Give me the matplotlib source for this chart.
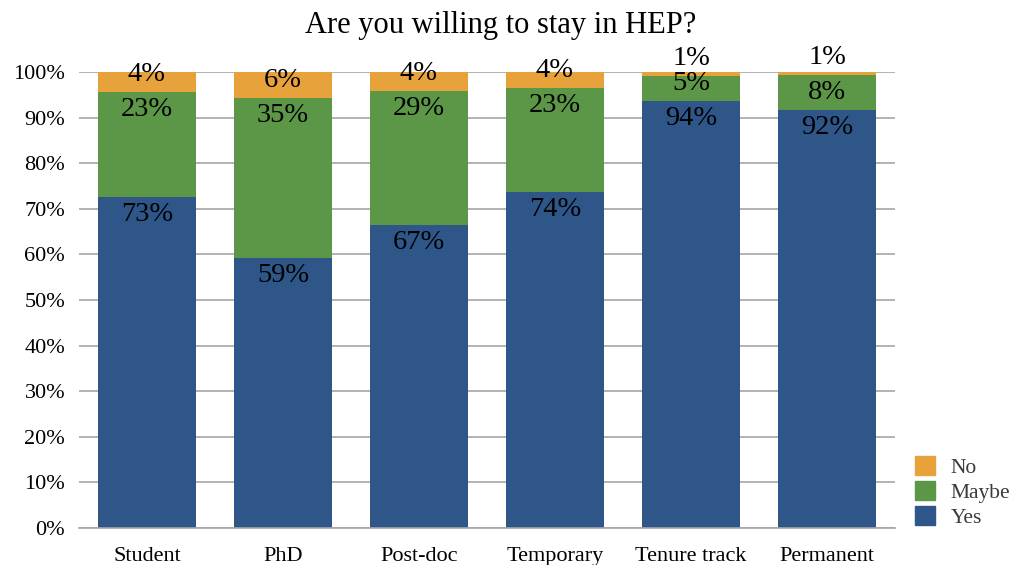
import matplotlib.pyplot as plt
from matplotlib.patches import Patch

categories = ['Student', 'PhD', 'Post-doc', 'Temporary', 'Tenure track', 'Permanent']
# segment heights (%)
yes = [72.6, 59.2, 66.4, 73.7, 93.6, 91.7]
maybe = [23.0, 35.1, 29.4, 22.8, 5.5, 7.6]
no = [4.4, 5.7, 4.2, 3.5, 0.9, 0.7]
# printed labels
yes_lbl = ['73%', '59%', '67%', '74%', '94%', '92%']
maybe_lbl = ['23%', '35%', '29%', '23%', '5%', '8%']
no_lbl = ['4%', '6%', '4%', '4%', '1%', '1%']

c_yes = '#2E5689'
c_maybe = '#5C9748'
c_no = '#E8A23C'

plt.rcParams['font.family'] = ['Liberation Serif', 'DejaVu Serif']

fig = plt.figure(figsize=(10.18, 5.65), dpi=100)
ax = fig.add_axes([79 / 1018, 37 / 565, 816 / 1018, 456 / 565])

x = range(len(categories))
w = 0.72
bottoms_maybe = yes
bottoms_no = [a + b for a, b in zip(yes, maybe)]
ax.bar(x, yes, w, color=c_yes, zorder=2)
ax.bar(x, maybe, w, bottom=bottoms_maybe, color=c_maybe, zorder=2)
ax.bar(x, no, w, bottom=bottoms_no, color=c_no, zorder=2)

h = 3.9
for i in x:
    segs = [(0, yes[i], yes_lbl[i]),
            (bottoms_maybe[i], maybe[i], maybe_lbl[i]),
            (bottoms_no[i], no[i], no_lbl[i])]
    for b, v, lbl in segs:
        top = b + v
        yc = max(top - h, b + h)
        ax.text(i, yc, lbl, ha='center', va='center', fontsize=20.5,
                color='black', zorder=3)

ax.set_xlim(-0.5, 5.5)
ax.set_ylim(0, 100)
ax.set_yticks(range(0, 101, 10))
ax.set_yticklabels([f'{v}%' for v in range(0, 101, 10)], fontsize=16)
ax.set_xticks(list(x))
ax.set_xticklabels(categories, fontsize=16, va='baseline')
ax.tick_params(axis='y', length=0, pad=10)
ax.tick_params(axis='x', length=0, pad=24)
ax.yaxis.grid(True, color='#a6a6a6', linewidth=1.2, zorder=0)
ax.set_axisbelow(True)
for s in ['top', 'right', 'left']:
    ax.spines[s].set_visible(False)
ax.spines['bottom'].set_color('#a6a6a6')
ax.spines['bottom'].set_linewidth(1.2)

fig.text(501 / 1018, 1 - 25 / 565, 'Are you willing to stay in HEP?', fontsize=22,
         ha='center', va='center')

handles = [Patch(color=c_no, label='No'), Patch(color=c_maybe, label='Maybe'),
           Patch(color=c_yes, label='Yes')]
leg = fig.legend(handles=handles, loc='lower left', bbox_to_anchor=(915 / 1018, 37 / 565),
                 frameon=False, fontsize=15.5, handlelength=0.95, handleheight=0.95,
                 handletextpad=0.7, labelspacing=0.15, borderaxespad=0, borderpad=0)
for t in leg.get_texts():
    t.set_color('#3a3a3a')

fig.savefig('out.png', dpi=100)
